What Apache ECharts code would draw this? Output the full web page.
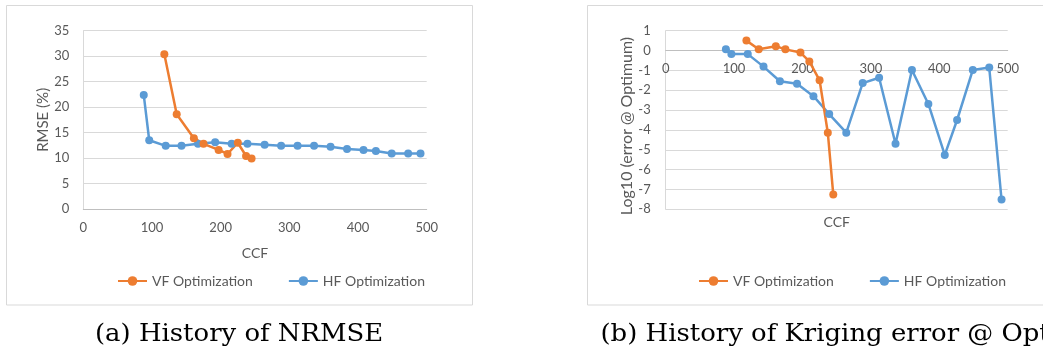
<!DOCTYPE html>
<html>
<head>
<meta charset="utf-8">
<script src="https://cdn.jsdelivr.net/npm/echarts@6/dist/echarts.min.js"></script>
<style>
html,body{margin:0;padding:0;background:#fff;}
#chart{width:1043px;height:356px;}
</style>
</head>
<body>
<div id="chart"></div>
<script>
// CCF values
const hfCCF = [88, 96, 120, 143, 167, 192, 216, 239, 264, 288, 312, 336, 360, 384, 408, 426, 449, 473, 491];
const vfCCF = [118, 136, 161, 175, 197, 210, 225, 237, 245];
// (a) RMSE (%)
const hfRMSE = [22.4, 13.5, 12.4, 12.4, 12.8, 13.1, 12.8, 12.8, 12.6, 12.4, 12.4, 12.4, 12.2, 11.8, 11.6, 11.4, 10.9, 10.9, 10.9];
const vfRMSE = [30.4, 18.6, 13.9, 12.8, 11.6, 10.8, 13.0, 10.4, 9.9];
// (b) Log10 (error @ Optimum)
const hfLogErr = [0.06, -0.18, -0.18, -0.81, -1.55, -1.67, -2.3, -3.2, -4.14, -1.64, -1.37, -4.7, -0.98, -2.69, -5.26, -3.5, -0.98, -0.86, -7.51];
const vfLogErr = [0.5, 0.07, 0.22, 0.06, -0.1, -0.55, -1.5, -4.14, -7.26];
// labels
const seriesNames = ['VF Optimization', 'HF Optimization'];
const captions = ['(a) History of NRMSE', '(b) History of Kriging error @ Optimum'];
const yNames = ['RMSE (%)', 'Log10 (error @ Optimum)'];
const xName = 'CCF';

const ORANGE = '#ED7D31', BLUE = '#5B9BD5';
const TXT = '#595959', GRID = '#D9D9D9', AXIS = '#BFBFBF';
const FONT = 'Lato';

function pairs(xs, ys){ return xs.map((x,i)=>[x, ys[i]]); }

function lineSeries(name, color, data, idx){
  return {
    name, type:'line', xAxisIndex:idx, yAxisIndex:idx, data,
    symbol:'circle', symbolSize:8, showSymbol:true,
    lineStyle:{color, width:2.5}, itemStyle:{color},
    animation:false
  };
}

const chart = echarts.init(document.getElementById('chart'), null, {renderer:'canvas'});
const axLabel = {color:TXT, fontFamily:FONT, fontSize:13};
const nameStyle = {color:TXT, fontFamily:FONT, fontSize:14};
const g1Top = 30.7, g1H = 178.6;
chart.setOption({
  backgroundColor:'#fff',
  animation:false,
  grid:[
    {left:83.3, top:30.7, width:343.4, height:178.3},
    {left:665.7, top:g1Top, width:342, height:g1H}
  ],
  xAxis:[
    {gridIndex:0, type:'value', min:0, max:500, interval:100,
     name:xName, nameLocation:'middle', nameGap:37, nameTextStyle:nameStyle,
     axisLine:{show:true, lineStyle:{color:AXIS, width:1}}, axisTick:{show:false},
     axisLabel:Object.assign({margin:12}, axLabel), splitLine:{show:false}},
    {gridIndex:1, type:'value', min:0, max:500, interval:100,
     // axis sits on y = 0 (1/9 of the way down from the top of the grid)
     offset:-(g1H * 8 / 9),
     name:xName, nameLocation:'middle', nameGap:165, nameTextStyle:nameStyle,
     axisLine:{show:true, onZero:false, lineStyle:{color:AXIS, width:1}}, axisTick:{show:false},
     axisLabel:Object.assign({margin:12}, axLabel), splitLine:{show:false}}
  ],
  yAxis:[
    {gridIndex:0, type:'value', min:0, max:35, interval:5,
     name:yNames[0], nameLocation:'middle', nameGap:33,
     nameTextStyle:Object.assign({}, nameStyle, {fontSize:15}),
     axisLine:{show:true, lineStyle:{color:GRID, width:1}}, axisTick:{show:false},
     axisLabel:Object.assign({margin:14}, axLabel),
     splitLine:{show:true, lineStyle:{color:GRID, width:1}}},
    {gridIndex:1, type:'value', min:-8, max:1, interval:1,
     name:yNames[1], nameLocation:'middle', nameGap:22,
     nameTextStyle:Object.assign({}, nameStyle, {fontSize:16, padding:[0,12,0,0]}),
     axisLine:{show:true, onZero:false, lineStyle:{color:GRID, width:1}}, axisTick:{show:false},
     axisLabel:Object.assign({margin:15}, axLabel),
     splitLine:{show:true, lineStyle:{color:GRID, width:1}}}
  ],
  legend:[
    {data:seriesNames, left:112, top:269, orient:'horizontal', itemWidth:29, itemHeight:12, itemGap:35,
     textStyle:{color:TXT, fontFamily:FONT, fontSize:14}, selectedMode:false},
    {data:seriesNames, left:693, top:269, orient:'horizontal', itemWidth:29, itemHeight:12, itemGap:35,
     textStyle:{color:TXT, fontFamily:FONT, fontSize:14}, selectedMode:false}
  ],
  series:[
    lineSeries(seriesNames[1], BLUE, pairs(hfCCF, hfRMSE), 0),
    lineSeries(seriesNames[0], ORANGE, pairs(vfCCF, vfRMSE), 0),
    lineSeries(seriesNames[1], BLUE, pairs(hfCCF, hfLogErr), 1),
    lineSeries(seriesNames[0], ORANGE, pairs(vfCCF, vfLogErr), 1)
  ],
  graphic:[
    {type:'rect', shape:{x:6.5, y:5.5, width:466, height:299.5}, style:{fill:null, stroke:GRID, lineWidth:1}, z:-1},
    {type:'rect', shape:{x:587.5, y:5.5, width:480, height:299.5}, style:{fill:null, stroke:GRID, lineWidth:1}, z:-1},
    {type:'text', x:95, y:322.5, scaleX:1.08, style:{text:captions[0], fill:'#000', font:'24px "DejaVu Serif"', verticalAlign:'top'}},
    {type:'text', x:600.5, y:322.5, scaleX:1.08, style:{text:captions[1], fill:'#000', font:'24px "DejaVu Serif"', verticalAlign:'top'}}
  ]
});
</script>
</body>
</html>
